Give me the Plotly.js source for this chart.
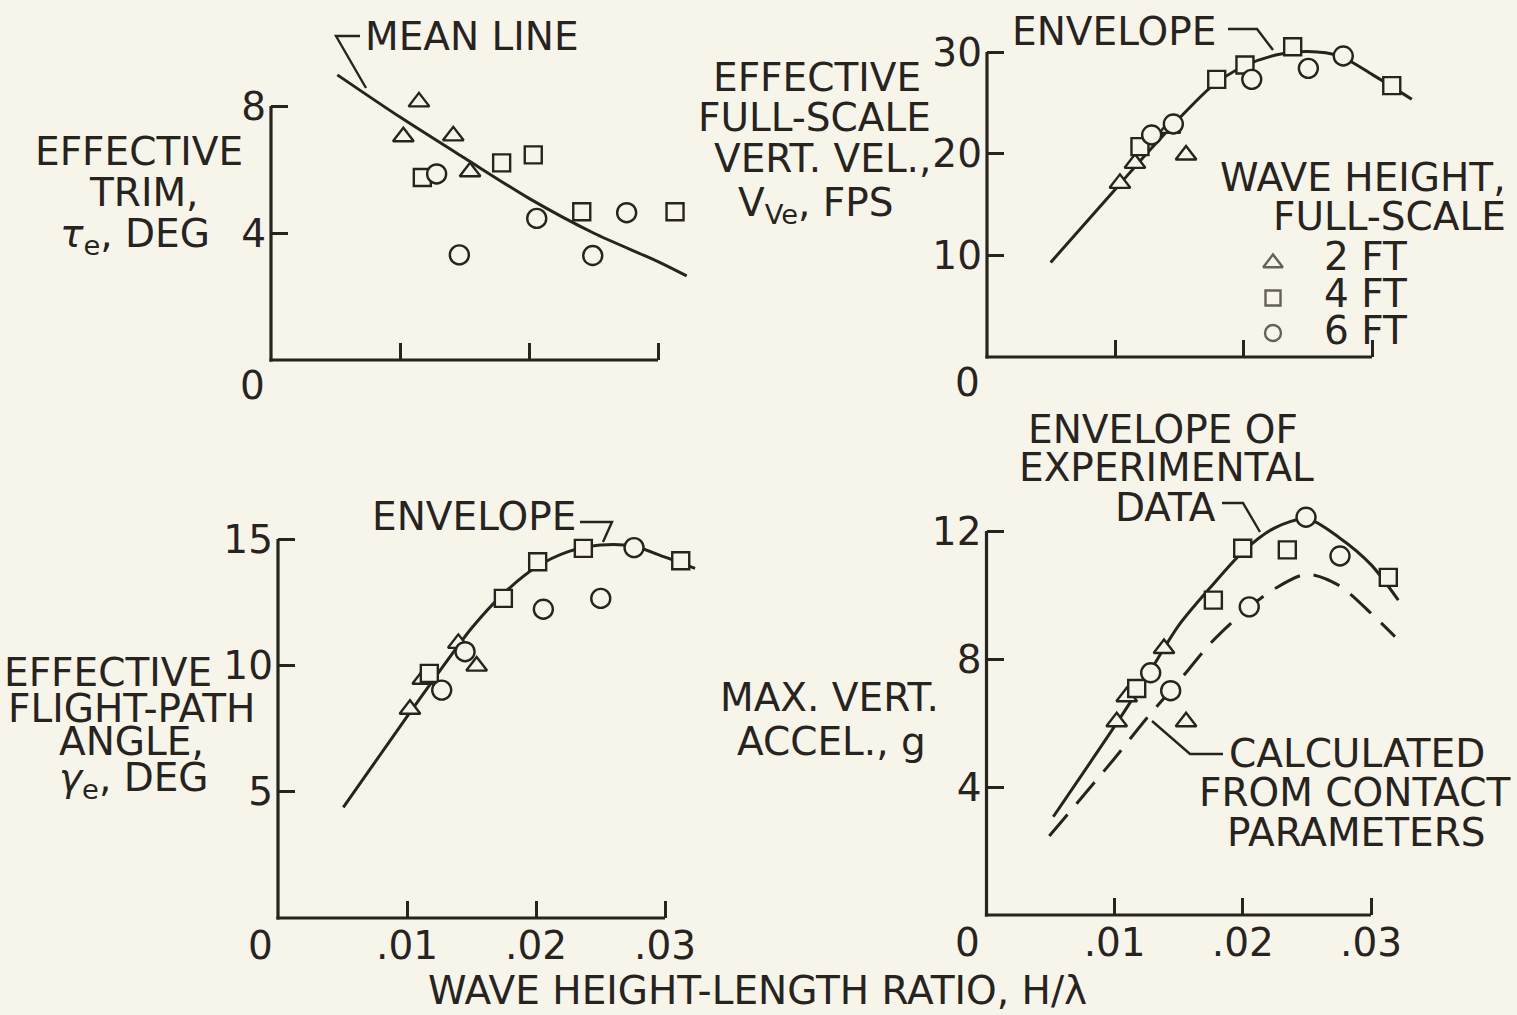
<!DOCTYPE html>
<html><head><meta charset="utf-8">
<script src="https://cdn.plot.ly/plotly-3.0.1.min.js"></script>
<style>html,body{margin:0;padding:0;background:#f7f5ea;}#chart{width:1517px;height:1015px;}</style>
</head><body><div id="chart"></div>
<script>
// ---------------- DATA ----------------
const xTickVals = [0.01, 0.02, 0.03];
const xTickText = ['.01', '.02', '.03'];

// Effective trim, deg
const trimTicks = [4, 8];
const trimTriX = [0.01147, 0.01026, 0.01413, 0.01543];
const trimTriY = [8.13, 7.03, 7.06, 5.93];
const trimSqX = [0.01173, 0.01788, 0.02033, 0.02409, 0.03132];
const trimSqY = [5.75, 6.21, 6.46, 4.67, 4.67];
const trimCirX = [0.01284, 0.0146, 0.0206, 0.02494, 0.02757];
const trimCirY = [5.86, 3.31, 4.46, 3.29, 4.64];
const meanLineX = [0.00514, 0.01, 0.015, 0.02, 0.025, 0.03, 0.03222];
const meanLineY = [8.98, 7.65, 6.36, 5.09, 4.0, 3.1, 2.65];

// Effective full-scale vertical velocity, fps
const velTicks = [10, 20, 30];
const velTriX = [0.01036, 0.01153, 0.01426, 0.01551];
const velTriY = [17.08, 19.05, 22.49, 19.87];
const velSqX = [0.01192, 0.0179, 0.0201, 0.02382, 0.03154];
const velSqY = [20.69, 27.31, 28.72, 30.52, 26.69];
const velCirX = [0.01283, 0.01452, 0.02063, 0.02504, 0.02776];
const velCirY = [21.84, 22.92, 27.31, 28.39, 29.61];
const velEnvX = [0.00496, 0.01, 0.0125, 0.015, 0.0175, 0.02, 0.0225, 0.025, 0.0275, 0.03, 0.0331];
const velEnvY = [9.3, 16.5, 20.1, 23.5, 26.6, 28.6, 29.7, 30.05, 29.6, 27.8, 25.35];

// Effective flight-path angle, deg
const angTicks = [5, 10, 15];
const angTriX = [0.01023, 0.01122, 0.01398, 0.0154];
const angTriY = [8.26, 9.45, 10.87, 9.97];
const angSqX = [0.01173, 0.01747, 0.02013, 0.02367, 0.03122];
const angSqY = [9.68, 12.65, 14.1, 14.63, 14.14];
const angCirX = [0.01269, 0.0145, 0.02057, 0.02502, 0.0276];
const angCirY = [9.02, 10.54, 12.22, 12.65, 14.66];
const angEnvX = [0.00506, 0.01, 0.0125, 0.015, 0.0175, 0.02, 0.0225, 0.025, 0.0275, 0.03, 0.03233];
const angEnvY = [4.38, 7.97, 9.75, 11.47, 12.85, 13.88, 14.5, 14.76, 14.72, 14.28, 13.84];

// Max vertical acceleration, g
const accTicks = [4, 8, 12];
const accTriX = [0.01016, 0.01094, 0.01385, 0.01557];
const accTriY = [6.04, 6.82, 8.33, 6.04];
const accSqX = [0.01172, 0.0177, 0.01999, 0.02347, 0.03135];
const accSqY = [7.08, 9.84, 11.46, 11.41, 10.55];
const accCirX = [0.01281, 0.01437, 0.0205, 0.02493, 0.02758];
const accCirY = [7.57, 7.01, 9.63, 12.43, 11.22];
const accEnvX = [0.00521, 0.01, 0.0125, 0.015, 0.0175, 0.02, 0.0225, 0.025, 0.0275, 0.03, 0.03213];
const accEnvY = [3.07, 5.9, 7.45, 9.05, 10.25, 11.35, 12.1, 12.38, 11.8, 10.95, 9.84];
const accCalcX = [0.0049, 0.01, 0.0125, 0.015, 0.0175, 0.02, 0.0225, 0.025, 0.0275, 0.03, 0.03187];
const accCalcY = [2.47, 4.9, 6.15, 7.3, 8.5, 9.45, 10.2, 10.65, 10.3, 9.43, 8.7];

const legendLabels = ['2 FT', '4 FT', '6 FT'];

// ---------------- STYLE / LAYOUT ----------------
const W = 1517, H = 1015;
const INK = '#27231f', BG = '#f7f5ea';
const FONT = "'DejaVu Sans', 'Liberation Sans', sans-serif";
const FS = 39;
const LW = 3.2;

// panel geometry in pixels
const panels = [
  {s: '',  x0: 271,   x03: 658,  right: 700,  y0: 360, topVal: 8,  topPx: 106, top: 55,  ticks: trimTicks, xlab: false},
  {s: '2', x0: 987,   x03: 1372, right: 1425, y0: 357, topVal: 30, topPx: 52,  top: 30,  ticks: velTicks,  xlab: false},
  {s: '3', x0: 278,   x03: 665,  right: 710,  y0: 918, topVal: 15, topPx: 539, top: 505, ticks: angTicks,  xlab: true},
  {s: '4', x0: 986.5, x03: 1371, right: 1425, y0: 915, topVal: 12, topPx: 531, top: 480, ticks: accTicks,  xlab: true}
];

const layout = {
  width: W, height: H,
  margin: {l: 0, r: 0, t: 0, b: 0, pad: 0},
  paper_bgcolor: BG, plot_bgcolor: 'rgba(0,0,0,0)',
  showlegend: false, hovermode: false,
  font: {family: FONT, size: FS, color: INK},
  shapes: [], annotations: []
};

panels.forEach(p => {
  const xmax = 0.03 * (p.right - p.x0) / (p.x03 - p.x0);
  const ymax = p.topVal * (p.y0 - p.top) / (p.y0 - p.topPx);
  layout['xaxis' + p.s] = {
    domain: [p.x0 / W, p.right / W], range: [0, xmax], anchor: 'y' + p.s,
    showgrid: false, zeroline: false, showline: false,
    tickmode: 'array', tickvals: xTickVals, ticktext: xTickText,
    ticks: 'inside', ticklen: 17, tickwidth: 3, tickcolor: INK,
    showticklabels: p.xlab, tickfont: {family: FONT, size: FS, color: INK},
    ticklabelstandoff: 1, fixedrange: true
  };
  layout['yaxis' + p.s] = {
    domain: [1 - p.y0 / H, 1 - p.top / H], range: [0, ymax], anchor: 'x' + p.s,
    showgrid: false, zeroline: false, showline: false,
    tickmode: 'array', tickvals: p.ticks, ticktext: p.ticks.map(String),
    ticks: 'inside', ticklen: 17, tickwidth: 3, tickcolor: INK,
    tickfont: {family: FONT, size: FS, color: INK},
    ticklabelstandoff: 4, fixedrange: true
  };
  const lenX = p.right - p.x0, lenY = p.y0 - p.top;
  layout.shapes.push({type: 'line', xref: 'x' + p.s + ' domain', yref: 'y' + p.s + ' domain',
    x0: -LW / 2 / lenX, x1: 0.03 / xmax, y0: 0, y1: 0, line: {color: INK, width: LW}});
  layout.shapes.push({type: 'line', xref: 'x' + p.s + ' domain', yref: 'y' + p.s + ' domain',
    x0: 0, x1: 0, y0: -LW / 2 / lenY, y1: p.topVal / ymax, line: {color: INK, width: LW}});
});

// overlay axis in page pixels for legend keys
layout.xaxis5 = {domain: [0, 1], range: [0, W], visible: false, fixedrange: true, anchor: 'y5'};
layout.yaxis5 = {domain: [0, 1], range: [H, 0], visible: false, fixedrange: true, anchor: 'x5'};

function px(x) { return x / W; }
function py(y) { return 1 - y / H; }
function ann(text, x, y, xa, size) {
  layout.annotations.push({text: text, xref: 'paper', yref: 'paper', x: px(x), y: py(y),
    xanchor: xa || 'center', yanchor: 'middle', showarrow: false,
    font: {family: FONT, size: size || FS, color: INK}});
}
function leader(pts) {
  let d = 'M' + pts.map(q => px(q[0]) + ',' + py(q[1])).join(' L');
  layout.shapes.push({type: 'path', xref: 'paper', yref: 'paper', path: d,
    line: {color: INK, width: 2.4}});
}

// Top-left texts
ann('MEAN LINE', 363, 36, 'left');
leader([[360, 36], [336, 36], [366, 88]]);
ann('EFFECTIVE', 139, 151);
ann('TRIM,', 143, 192);
ann('<i>τ</i><sub>e</sub>, DEG', 135, 236);
ann('0', 253, 385);

// Top-right texts
ann('ENVELOPE', 1218, 31, 'right');
leader([[1228, 29], [1257, 29], [1273, 50]]);
ann('EFFECTIVE', 817, 77);
ann('FULL-SCALE', 814, 118);
ann('VERT. VEL.,', 822, 159);
ann('V<sub>Ve</sub>, FPS', 816, 205);
ann('0', 967, 382);
ann('WAVE HEIGHT,', 1508, 178, 'right');
ann('FULL-SCALE', 1508, 217, 'right');
const legendRowY = [257, 293, 330];
legendLabels.forEach((t, i) => ann(t, 1322, legendRowY[i], 'left'));

// Bottom-left texts
ann('ENVELOPE', 370, 516, 'left');
leader([[580, 522], [612, 522], [603, 542]]);
ann('EFFECTIVE', 108, 672);
ann('FLIGHT-PATH', 131, 708);
ann('ANGLE,', 131, 741);
ann('<i>γ</i><sub>e</sub>, DEG', 134, 780);
ann('0', 260, 945);

// Bottom-right texts
ann('ENVELOPE OF', 1163, 430);
ann('EXPERIMENTAL', 1166, 467);
ann('DATA', 1165, 507);
leader([[1222, 503], [1243, 503], [1260, 532]]);
ann('CALCULATED', 1357, 753);
ann('FROM CONTACT', 1354, 792);
ann('PARAMETERS', 1356, 832);
leader([[1152, 721], [1190, 754], [1223, 754]]);
ann('MAX. VERT.', 830, 697);
ann('ACCEL., g', 831, 741);
ann('0', 967, 942);

ann('WAVE HEIGHT-LENGTH RATIO, H/λ', 757, 990);

// ---------------- TRACES ----------------
const traces = [];
function line(x, y, s, dash) {
  traces.push({x: x, y: y, xaxis: 'x' + s, yaxis: 'y' + s, mode: 'lines', type: 'scatter',
    line: {color: INK, width: 3, shape: 'spline', smoothing: 0.8, dash: dash || 'solid'},
    hoverinfo: 'skip'});
}
function pts(x, y, s, sym, size) {
  traces.push({x: x, y: y, xaxis: 'x' + s, yaxis: 'y' + s, mode: 'markers', type: 'scatter',
    cliponaxis: false,
    marker: {symbol: sym, size: size, color: BG, line: {color: INK, width: 2.4}},
    hoverinfo: 'skip'});
}
function panelMarks(s, tx, ty, sx, sy, cx, cy) {
  pts(tx, ty, s, 'triangle-up', 18);
  pts(sx, sy, s, 'square', 17);
  pts(cx, cy, s, 'circle', 19);
}
line(meanLineX, meanLineY, '');
panelMarks('', trimTriX, trimTriY, trimSqX, trimSqY, trimCirX, trimCirY);
line(velEnvX, velEnvY, '2');
panelMarks('2', velTriX, velTriY, velSqX, velSqY, velCirX, velCirY);
line(angEnvX, angEnvY, '3');
panelMarks('3', angTriX, angTriY, angSqX, angSqY, angCirX, angCirY);
line(accCalcX, accCalcY, '4', '28px,14px');
line(accEnvX, accEnvY, '4');
panelMarks('4', accTriX, accTriY, accSqX, accSqY, accCirX, accCirY);

// legend keys
const legendKeyY = [263, 298, 333];
const legendSyms = ['triangle-up', 'square', 'circle'];
traces.push({x: [1273, 1273, 1273], y: legendKeyY, xaxis: 'x5', yaxis: 'y5', mode: 'markers',
  type: 'scatter', cliponaxis: false,
  marker: {symbol: legendSyms, size: [17, 15, 16], color: BG, line: {color: INK, width: 2.4}},
  hoverinfo: 'skip'});

Plotly.newPlot('chart', traces, layout, {staticPlot: true, displayModeBar: false});
</script>
</body></html>
